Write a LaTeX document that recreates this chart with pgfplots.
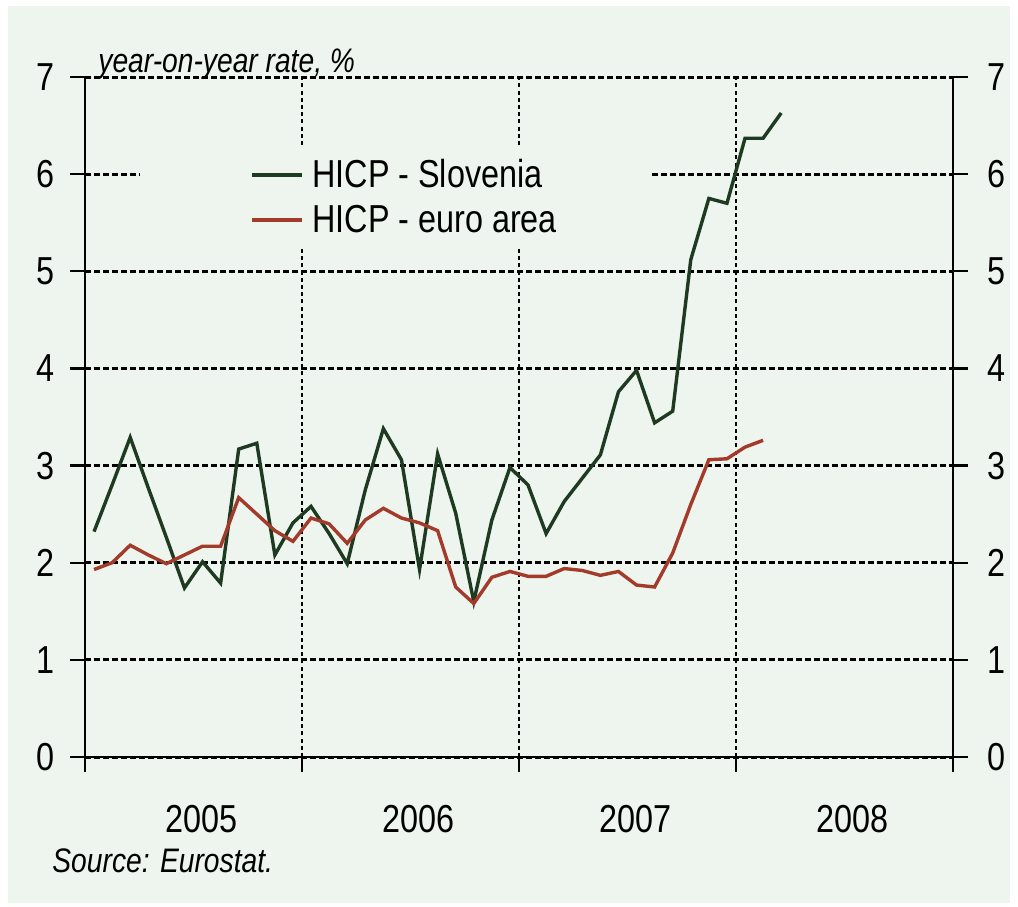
\documentclass[border=0pt]{standalone}
\usepackage{pgfplots}
\pgfplotsset{compat=1.18}
\usepackage{fontspec}
\setmainfont{Liberation Sans}[FakeStretch=0.83]

\definecolor{panel}{HTML}{EDF5EE}
\definecolor{slo}{HTML}{1E3B22}
\definecolor{euro}{HTML}{A33A2A}

\pgfplotsset{
  base/.style={
    scale only axis, width=434pt, height=340pt,
    xmin=0, xmax=48, ymin=0, ymax=7,
    ytick={0,...,7},
    axis line style={draw=none},
    tick align=outside, major tick length=7.5pt,
    tick style={black, line width=1.2pt},
    /pgf/number format/assume math mode=true,
    ticklabel style={font=\fontsize{19.5}{22}\selectfont},
  }
}

\begin{document}
\begin{tikzpicture}
\fill[white] (-42.5pt,-74.5pt) rectangle (466.5pt,378.5pt);
\fill[panel] (-38.5pt,-73pt) rectangle (462.5pt,375.5pt);

\begin{axis}[base,
  xtick={0,12,24,36,48}, xticklabels={2005,2006,2007,2008},
  x tick label as interval,
  xtick pos=bottom, ytick pos=both, yticklabel pos=left,
  xticklabel style={xshift=4pt, yshift=-13pt},
  yticklabel style={xshift=-4pt},
  grid=major,
  x grid style={black, line width=1.3pt, dash pattern=on 2pt off 1.6pt},
  y grid style={black, line width=1.5pt, dash pattern=on 3pt off 1.5pt},
  legend style={at={(rel axis cs:0.19,0.885)}, anchor=north west,
    fill=none, draw=none, font=\fontsize{19.5}{22}\selectfont,
    row sep=3pt, inner sep=0pt},
  legend cell align=left,
  legend image code/.code={\draw[#1, line width=2pt] (0pt,0pt) -- (25pt,0pt);},
  legend style={nodes={inner xsep=4pt}},
  after end axis/.code={
    \draw[black, line width=1.3pt] (rel axis cs:0,1) -- (rel axis cs:0,0)
      -- (rel axis cs:1,0) -- (rel axis cs:1,1);
    \node[anchor=base west, inner sep=0pt, font=\fontsize{17}{20}\selectfont\itshape]
      at ([xshift=6.5pt, yshift=2.5pt]rel axis cs:0,1) {year-on-year rate, \%};
    \node[anchor=base west, inner sep=0pt, font=\fontsize{17}{20}\selectfont\itshape]
      at ([xshift=-16.5pt, yshift=-57.5pt]rel axis cs:0,0) {Source: Eurostat.};
  },
]
\fill[panel] (rel axis cs:0.0634,0.75) rectangle (rel axis cs:0.6509,0.90);

\addplot[slo, line width=1.7pt] coordinates {
(0.5,2.32) (1.5,2.80) (2.5,3.29) (3.5,2.77) (4.5,2.26) (5.5,1.74)
(6.5,2.01) (7.5,1.79) (8.5,3.17) (9.5,3.23) (10.5,2.08) (11.5,2.41)
(12.5,2.58) (13.5,2.30) (14.5,1.99) (15.5,2.75) (16.5,3.38) (17.5,3.06)
(18.5,1.93) (19.5,3.12) (20.5,2.51) (21.5,1.60) (22.5,2.44) (23.5,2.98)
(24.5,2.80) (25.5,2.30) (26.5,2.63) (27.5,2.87) (28.5,3.11) (29.5,3.76)
(30.5,3.98) (31.5,3.44) (32.5,3.56) (33.5,5.12) (34.5,5.75) (35.5,5.70)
(36.5,6.37) (37.5,6.37) (38.5,6.63)
};
\addlegendentry{HICP - Slovenia}

\addplot[euro, line width=1.7pt] coordinates {
(0.5,1.93) (1.5,2.00) (2.5,2.18) (3.5,2.08) (4.5,1.99) (5.5,2.08)
(6.5,2.17) (7.5,2.17) (8.5,2.67) (9.5,2.50) (10.5,2.33) (11.5,2.22)
(12.5,2.46) (13.5,2.40) (14.5,2.20) (15.5,2.44) (16.5,2.56) (17.5,2.46)
(18.5,2.41) (19.5,2.33) (20.5,1.75) (21.5,1.58) (22.5,1.85) (23.5,1.91)
(24.5,1.86) (25.5,1.86) (26.5,1.94) (27.5,1.92) (28.5,1.87) (29.5,1.91)
(30.5,1.77) (31.5,1.75) (32.5,2.10) (33.5,2.60) (34.5,3.06) (35.5,3.07)
(36.5,3.19) (37.5,3.26)
};
\addlegendentry{HICP - euro area}
\end{axis}

\begin{axis}[base,
  xtick=\empty, ytick pos=right, yticklabel pos=right,
  yticklabel style={xshift=6pt},
]
\end{axis}
\end{tikzpicture}
\end{document}
